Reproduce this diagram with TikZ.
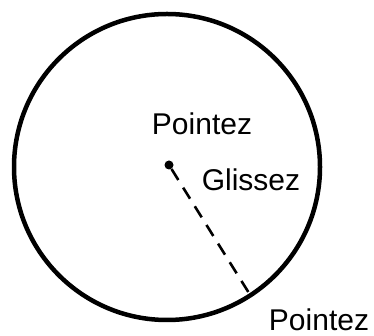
\documentclass[tikz,border=0pt]{standalone}
\usepackage{fontspec}
\setmainfont{Liberation Sans}
\usetikzlibrary{positioning}

\begin{document}
\begin{tikzpicture}[
    x=1pt, y=1pt,
    disque/.style={draw, circle, line width=4.5pt, minimum size=306pt, inner sep=0pt},
    point/.style={circle, fill=black, minimum size=9pt, inner sep=0pt},
    lbl/.style={font=\fontsize{30}{33}\selectfont, inner sep=0pt},
    trace/.style={dash pattern=on 13pt off 9pt, line width=2.6pt}
]
\useasboundingbox (0,0) rectangle (374,336);
\node[disque] (disque) at (167,169) {};
\node[point] (centre) at (169,171) {};
\node[lbl] (debut) at (202,212) {Pointez};
\node[lbl] (glisse) at (251,156) {Glissez};
\node[lbl] (fin) at (319,16) {Pointez};

\draw[trace] (centre) -- (disque.-57);
\end{tikzpicture}
\end{document}
